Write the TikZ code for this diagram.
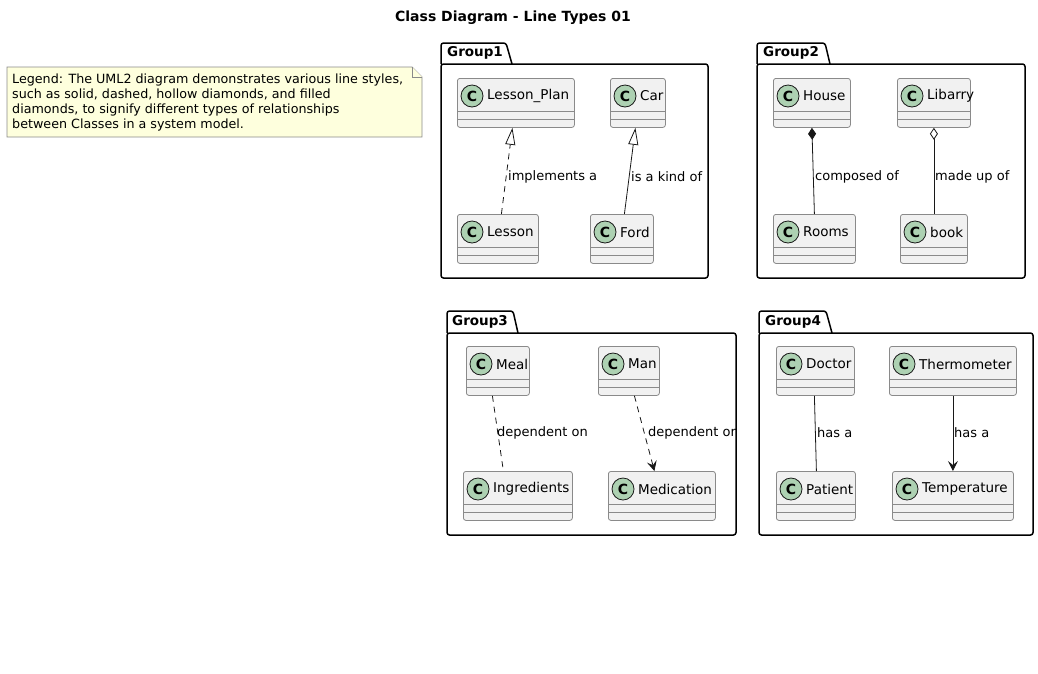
\documentclass[tikz,border=0pt]{standalone}
\usepackage{fontspec}
\setmainfont{DejaVu Sans}
\usetikzlibrary{arrows.meta}
\definecolor{classfill}{HTML}{F1F1F1}
\definecolor{classborder}{HTML}{181818}
\definecolor{classedge}{HTML}{8A8A8A}
\definecolor{spotfill}{HTML}{ADD1B2}
\definecolor{notefill}{HTML}{FEFFDD}
% class box: node name, left, top, width, class name
\newcommand{\drawclass}[5]{%
  \node [classbox, minimum width=#4pt, anchor=north west] (#1) at (#2,#3) {};%
  \draw [classline] ([yshift=-33pt]#1.north west) -- ([yshift=-33pt]#1.north east);%
  \draw [classline] ([yshift=-41pt]#1.north west) -- ([yshift=-41pt]#1.north east);%
  \node [classspot] (#1-spot) at ([xshift=15pt,yshift=-18pt]#1.north west) {C};%
  \node [classname] (#1-name) at ([xshift=15pt]#1-spot.center) {#5};%
}
\begin{document}
\begin{tikzpicture}[x=1pt, y=-1pt,
    classbox/.style={draw=classedge, fill=classfill, rounded corners=2.5pt, line width=0.8pt, minimum height=49pt, inner sep=0pt},
    classline/.style={draw=classedge, line width=0.8pt},
    classspot/.style={circle, draw=classborder, fill=spotfill, minimum size=22pt, inner sep=0pt, line width=0.8pt, font=\fontsize{14}{14}\selectfont\bfseries},
    classname/.style={anchor=west, inner sep=0pt, font=\fontsize{13.5}{16}\selectfont},
    edgelabel/.style={anchor=west, inner sep=0pt, font=\fontsize{13}{15}\selectfont},
    relation/.style={draw=classborder, line width=0.8pt},
    dashes/.style={dash pattern=on 6pt off 5pt},
    package/.style={line width=1.5pt, rounded corners=2.5pt},
    packname/.style={anchor=west, inner sep=0pt, font=\fontsize{13.5}{15}\selectfont\bfseries},
    note/.style={draw=classedge, fill=notefill, line width=0.8pt}]
\useasboundingbox (0,0) rectangle (1038,673);
{
% Drawing title
\node [font=\fontsize{14}{16}\selectfont\bfseries, inner sep=0pt] (title) at (513,18) {Class Diagram - Line Types 01};

% Drawing legend note
\draw [note] (7,67) -- (412,67) -- (422,77) -- (422,137) -- (7,137) -- cycle;
\draw [note] (412,67) -- (412,77) -- (422,77);
\node [anchor=north west, inner sep=0pt, align=left, font=\fontsize{12.7}{14.8}\selectfont] (legend) at (12,74) {Legend: The UML2 diagram demonstrates various line styles,\\such as solid, dashed, hollow diamonds, and filled\\diamonds, to signify different types of relationships\\between Classes in a system model.};

% Drawing package Group1
\draw [package] (441,64) -- (441,43) -- (506,43) -- (512,64);
\draw [package] (441,64) rectangle (708,278);
\node [packname] (group1) at (447,53) {Group1};
\drawclass{lessonplan}{457}{78}{117}{Lesson\_Plan}
\drawclass{car}{610}{78}{55}{Car}
\drawclass{lesson}{457}{214}{81}{Lesson}
\drawclass{ford}{590}{214}{63}{Ford}

% Drawing realization Lesson Lesson_Plan
\draw [relation, dashes, -{Triangle[open, length=17pt, width=10pt, fill=white]}] ([xshift=3.5pt]lesson.north) -- ([xshift=-3.5pt]lessonplan.south);
\node [edgelabel] (implements) at (508,177) {implements a};

% Drawing generalization Ford Car
\draw [relation, -{Triangle[open, length=17pt, width=10pt, fill=white]}] ([xshift=2.5pt]ford.north) -- ([xshift=-2.5pt]car.south);
\node [edgelabel] (kindof) at (631,177) {is a kind of};

% Drawing package Group2
\draw [package] (757,64) -- (757,43) -- (825,43) -- (830,64);
\draw [package] (757,64) rectangle (1025,278);
\node [packname] (group2) at (763,53) {Group2};
\drawclass{house}{773}{78}{77}{House}
\drawclass{libarry}{897}{78}{73}{Libarry}
\drawclass{rooms}{773}{214}{82}{Rooms}
\drawclass{book}{900}{214}{67}{book}

% Drawing composition House Rooms
\draw [relation, {Diamond[length=12pt, width=8pt]}-] (house.south) -- (rooms.north);
\node [edgelabel] (composed) at (815,177) {composed of};

% Drawing aggregation Libarry book
\draw [relation, {Diamond[open, length=12pt, width=8pt, fill=white]}-] (libarry.south) -- (book.north);
\node [edgelabel] (madeup) at (935,177) {made up of};

% Drawing package Group3
\draw [package] (447,333) -- (447,311) -- (513,311) -- (518,333);
\draw [package] (447,333) rectangle (736,535);
\node [packname] (group3) at (452,322) {Group3};
\drawclass{meal}{466}{346}{63}{Meal}
\drawclass{man}{598}{346}{61}{Man}
\drawclass{ingredients}{463}{471}{109}{Ingredients}
\drawclass{medication}{608}{471}{107}{Medication}

% Drawing dependency Meal Ingredients
\draw [relation, dashes] ([xshift=-5.5pt]meal.south) -- ([xshift=-14.5pt]ingredients.north);
\node [edgelabel] (dependmeal) at (497,433) {dependent on};

% Drawing dependency Man Medication
\draw [relation, dashes, -{Stealth[length=10pt, width=10pt, inset=4pt]}] ([xshift=5.5pt]man.south) -- ([xshift=-7.5pt]medication.north);
\begin{scope}
\clip (447,333) rectangle (735,535);
\node [edgelabel] (dependman) at (648,433) {dependent on};
\end{scope}

% Drawing package Group4
\draw [package] (759,333) -- (759,311) -- (826,311) -- (832,333);
\draw [package] (759,333) rectangle (1033,535);
\node [packname] (group4) at (765,322) {Group4};
\drawclass{doctor}{776}{346}{78}{Doctor}
\drawclass{thermometer}{889}{346}{127}{Thermometer}
\drawclass{patient}{776}{471}{79}{Patient}
\drawclass{temperature}{892}{471}{121}{Temperature}

% Drawing association Doctor Patient
\draw [relation] ([xshift=-1pt]doctor.south) -- ([xshift=0.5pt]patient.north);
\node [edgelabel] (hasdoctor) at (817,433) {has a};

% Drawing association Thermometer Temperature
\draw [relation, -{Stealth[length=10pt, width=10pt, inset=4pt]}] (thermometer.south) -- (temperature.north);
\node [edgelabel] (hasthermo) at (954,433) {has a};
}
\end{tikzpicture}
\end{document}
